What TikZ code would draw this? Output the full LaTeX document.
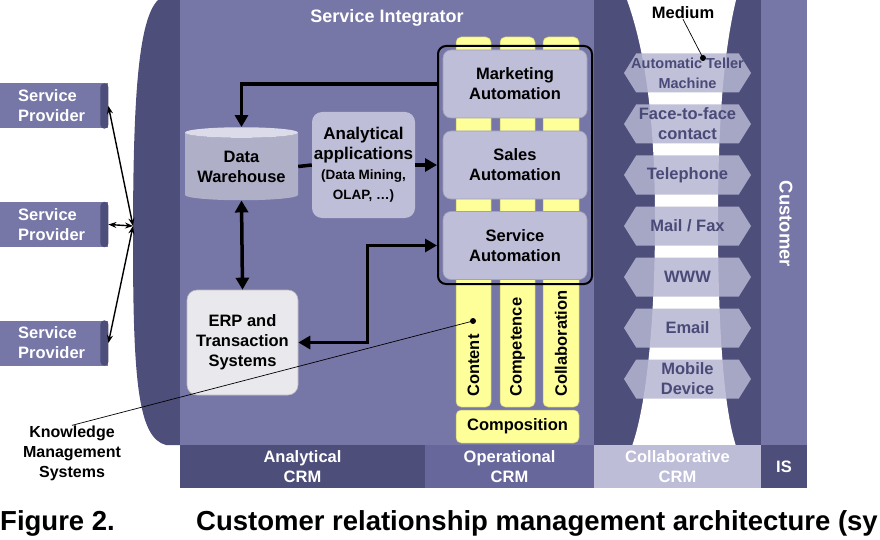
\documentclass[tikz,border=0pt]{standalone}
\usepackage{fontspec}
\setmainfont{Liberation Sans}
\usetikzlibrary{arrows.meta,positioning,shapes.geometric,shapes.symbols}

\definecolor{band}{HTML}{4E4E7B}
\definecolor{panel}{HTML}{7676A7}
\definecolor{opbar}{HTML}{67679C}
\definecolor{collbar}{HTML}{BDBDD8}
\definecolor{boxfill}{HTML}{BEBED8}
\definecolor{erpfill}{HTML}{E9E9ED}
\definecolor{colfill}{HTML}{FFFF99}
\definecolor{chanfill}{HTML}{B6B6D3}
\definecolor{chantext}{HTML}{4A4A78}

\begin{document}
\begin{tikzpicture}[x=1pt,y=-1pt,
 lbl/.style={font=\fontsize{16.5}{20}\selectfont\bfseries,align=center,inner sep=0pt},
 wlbl/.style={lbl,text=white},
 box/.style={lbl,fill=boxfill,draw=boxfill!85!black,line width=0.6pt,rounded corners=8pt,minimum width=144,minimum height=68},
 chan/.style={lbl,signal,signal to=east and west,signal pointer angle=116,fill=chanfill,fill opacity=0.85,text opacity=1,text=chantext,minimum width=127,minimum height=39},
 provider/.style={wlbl,fill=panel,minimum width=108,minimum height=45,text width=72,align=left,anchor=west},
 yellowbar/.style={fill=colfill,draw=colfill!75!black,line width=0.5pt,rounded corners=5pt},
 flow/.style={line width=3.5pt,-{Triangle[length=12pt,width=13pt]}},
 flowboth/.style={line width=3.5pt,{Triangle[length=12pt,width=13pt]}-{Triangle[length=12pt,width=13pt]}},
 link/.style={line width=1.4pt,{Stealth[length=8pt,width=6pt]}-{Stealth[length=8pt,width=6pt]}}]
\useasboundingbox (0,0) rectangle (880,540);
% background bands
\fill[band] (180,0) -- (158,0) .. controls (138,20) and (133,100) .. (133,240)
 .. controls (133,380) and (138,438) .. (166,445) -- (180,445) -- cycle;
\fill[panel] (180,0) rectangle (594,445);
\fill[band] (594,0) rectangle (761,445);
\fill[white] (627,0) .. controls (645,50) and (655,120) .. (655,220)
 .. controls (655,330) and (645,410) .. (632,446) -- (736,446)
 .. controls (724,410) and (718,330) .. (718,220)
 .. controls (718,120) and (724,50) .. (736,0) -- cycle;
\fill[panel] (761,0) rectangle (807,445);
\node[wlbl,fill=band,minimum width=245,minimum height=43] (acrm) at (302.5,466.5) {Analytical\\CRM};
\node[wlbl,fill=opbar,minimum width=169,minimum height=43] (ocrm) at (509.5,466.5) {Operational\\CRM};
\node[wlbl,fill=collbar,minimum width=167,minimum height=43] (ccrm) at (677.5,466.5) {Collaborative\\CRM};
\node[wlbl,fill=band,minimum width=46,minimum height=43] (is) at (784,466.5) {IS};
\node[wlbl,font=\fontsize{18}{20}\selectfont\bfseries] (si) at (387,18) {Service Integrator};
\node[wlbl,font=\fontsize{18.5}{20}\selectfont\bfseries,rotate=-90] (cust) at (786,224) {Customer};

% service providers
\node[provider] (sp1) at (0,106) {Service\\Provider};
\node[provider] (sp2) at (0,224.5) {Service\\Provider};
\node[provider] (sp3) at (0,343) {Service\\Provider};
\fill[band,rounded corners=4pt] ([xshift=-8pt]sp1.north east) rectangle (sp1.south east);
\fill[band,rounded corners=4pt] ([xshift=-8pt]sp2.north east) rectangle (sp2.south east);
\fill[band,rounded corners=4pt] ([xshift=-8pt]sp3.north east) rectangle (sp3.south east);
\coordinate (hub) at (133,226);
\draw[link] (sp1.east) -- (hub);
\draw[link] (sp2.east) -- (hub);
\draw[link] (sp3.east) -- (hub);

% knowledge columns
\draw[yellowbar] (456,37) rectangle (491,407);
\draw[yellowbar] (500,37) rectangle (535,407);
\draw[yellowbar] (543,37) rectangle (579,407);
\node[lbl,yellowbar,minimum width=123,minimum height=33] (comp) at (517.5,426.5) {Composition};
\node[lbl,rotate=90,anchor=west] (content) at (473.5,397) {Content};
\node[lbl,rotate=90,anchor=west] (compet) at (517.5,397) {Competence};
\node[lbl,rotate=90,anchor=west] (collab) at (561,397) {Collaboration};

% operational CRM
\node[draw,line width=2pt,rounded corners=8pt,minimum width=154,minimum height=238] (ops) at (515,165) {};
\node[box] (mkt) at (515,84) {Marketing\\Automation};
\node[box] (sales) at (515,165) {Sales\\Automation};
\node[box] (svc) at (515,245.5) {Service\\Automation};

% analytical CRM
\node[lbl,cylinder,shape border rotate=90,aspect=0.12,minimum width=113,minimum height=73,
 cylinder uses custom fill,cylinder body fill=boxfill!92!black,cylinder end fill=boxfill!55!white] (dw) at (241.5,166.5) {Data\\Warehouse};
\node[lbl,fill=boxfill,rounded corners=10pt,minimum width=103,minimum height=106] (aa) at (363.5,165)
 {{\fontsize{17}{19}\selectfont Analytical}\\{\fontsize{17}{19}\selectfont applications}\\{\fontsize{13.5}{18}\selectfont (Data Mining,}\\{\fontsize{13.5}{16}\selectfont OLAP, \dots)}};
\node[lbl,fill=erpfill,draw=erpfill!80!black,line width=0.6pt,rounded corners=10pt,minimum width=111,minimum height=105] (erp) at (242.5,342.5) {ERP and\\Transaction\\Systems};

\draw[flow] (mkt.west -| ops.west) -| (dw.north);
\draw[line width=3.5pt] (dw.east) -- (aa.west);
\draw[flow] (aa.east) -- (aa.east -| ops.west);
\draw[flowboth] (dw.south) -- (erp.north);
\draw[flowboth] (erp.east) -- ++(69,0) |- (svc.west -| ops.west);

% knowledge management pointer
\node[lbl,font=\fontsize{16}{20}\selectfont\bfseries] (kms) at (72,453) {Knowledge\\Management\\Systems};
\fill (473,321) circle [radius=3] coordinate (kdot);
\draw[line width=0.7pt] (kms.north) -- (kdot);

% channels
\node[chan,inner xsep=-14pt] (atm) at (687.5,73) {\fontsize{14.5}{17}\selectfont Automatic Teller\\\fontsize{14.5}{17}\selectfont Machine};
\node[chan] (f2f) at (687.5,124) {Face-to-face\\contact};
\node[chan] (tel) at (687.5,175) {Telephone};
\node[chan] (mail) at (687.5,226) {Mail / Fax};
\node[chan] (www) at (687.5,277) {WWW};
\node[chan] (email) at (687.5,328) {Email};
\node[chan] (mobile) at (687.5,379) {Mobile\\Device};
\node[lbl] (medium) at (683,13) {Medium};
\fill (703,58) circle [radius=3] coordinate (mdot);
\draw[line width=0.7pt] (medium.south) -- (mdot);

% caption
\node[lbl,anchor=west,font=\fontsize{27.5}{30}\selectfont\bfseries] (fig) at (0,523) {Figure 2.};
\node[lbl,anchor=west,font=\fontsize{27.5}{30}\selectfont\bfseries] (title) at (196,523) {Customer relationship management architecture (sy};
\end{tikzpicture}
\end{document}
